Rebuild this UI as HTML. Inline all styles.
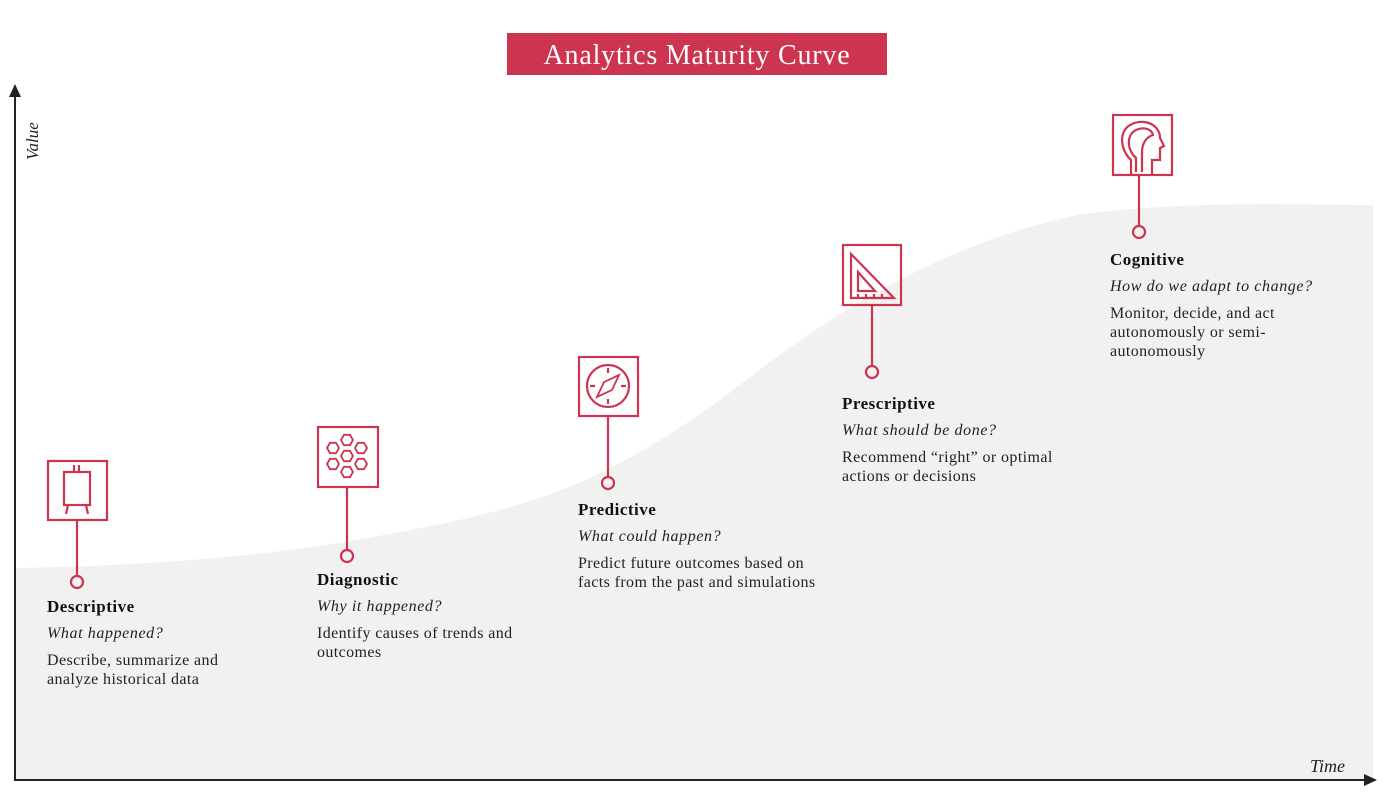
<!DOCTYPE html>
<html><head><meta charset="utf-8"><style>
body{margin:0;width:1400px;height:793px;background:#fff;position:relative;overflow:hidden;font-family:"Liberation Serif",serif;color:#222}
.t{position:absolute;font-size:16px;line-height:19px;letter-spacing:0.4px}
.t b{display:block;font-size:17px;letter-spacing:0.5px;margin-bottom:8px;color:#111}
.t i{display:block;margin-bottom:8px;letter-spacing:0.6px}
</style></head><body>
<svg width="1400" height="793" style="position:absolute;left:0;top:0">
<path d="M16,568 C150,566 260,556 350,541 C460,522 540,505 610,468 C680,432 720,400 770,362 C840,310 950,240 1083,214 C1200,200 1300,205 1373,205 L1373,780 L16,780 Z" fill="#f1f1f1"/>
<line x1="15" y1="95" x2="15" y2="781" stroke="#222" stroke-width="2"/>
<polygon points="15,84 9,97 21,97" fill="#222"/>
<line x1="14" y1="780" x2="1366" y2="780" stroke="#222" stroke-width="2"/>
<polygon points="1377,780 1364,774 1364,786" fill="#222"/>
<rect x="507" y="33" width="380" height="42" fill="#cd3450"/>
<text x="697" y="64" text-anchor="middle" font-family="Liberation Serif,serif" font-size="28" letter-spacing="0.8" fill="#fff">Analytics Maturity Curve</text>
<text transform="translate(38,160) rotate(-90)" font-family="Liberation Serif,serif" font-style="italic" font-size="17" fill="#222">Value</text>
<text x="1345" y="772" text-anchor="end" font-family="Liberation Serif,serif" font-style="italic" font-size="18" fill="#222">Time</text>
<defs><polygon id="hx" points="-6,0 -3,-5.2 3,-5.2 6,0 3,5.2 -3,5.2"/></defs>
<g fill="none" stroke="#cd3450" stroke-width="2.2">
<rect x="48" y="461" width="59" height="59"/><line x1="77" y1="520" x2="77" y2="576"/><circle cx="77" cy="582" r="6"/>
<rect x="64" y="472" width="26" height="33"/><line x1="74" y1="465" x2="74" y2="472"/><line x1="79" y1="465" x2="79" y2="472"/><line x1="68" y1="505" x2="66" y2="514"/><line x1="86" y1="505" x2="88" y2="514"/>
<rect x="318" y="427" width="60" height="60"/><line x1="347" y1="487" x2="347" y2="550"/><circle cx="347" cy="556" r="6"/>
<g stroke-width="1.8">
<use href="#hx" x="347" y="456"/><use href="#hx" x="347" y="440"/><use href="#hx" x="347" y="472"/>
<use href="#hx" x="333" y="448"/><use href="#hx" x="361" y="448"/><use href="#hx" x="333" y="464"/><use href="#hx" x="361" y="464"/>
</g>
<rect x="579" y="357" width="59" height="59"/><line x1="608" y1="416" x2="608" y2="477"/><circle cx="608" cy="483" r="6"/>
<circle cx="608" cy="386" r="21"/><polygon points="619,375 612,390 597,397 604,382" stroke-width="1.8"/>
<line x1="608" y1="368" x2="608" y2="373"/><line x1="608" y1="399" x2="608" y2="404"/><line x1="590" y1="386" x2="595" y2="386"/><line x1="621" y1="386" x2="626" y2="386"/>
<rect x="843" y="245" width="58" height="60"/><line x1="872" y1="305" x2="872" y2="366"/><circle cx="872" cy="372" r="6"/>
<polygon points="851,254 851,298 894,298"/><polygon points="858,272 858,291 875,291"/>
<line x1="858" y1="294" x2="858" y2="298"/><line x1="866" y1="294" x2="866" y2="298"/><line x1="874" y1="294" x2="874" y2="298"/><line x1="882" y1="294" x2="882" y2="298"/>
<rect x="1113" y="115" width="59" height="60"/><line x1="1139" y1="175" x2="1139" y2="226"/><circle cx="1139" cy="232" r="6"/>
<path d="M1131,175 L1131,160 C1120,150 1118,130 1132,124 C1145,118 1160,125 1160,138 L1164,146 L1160,148 L1160,160 L1152,160 L1152,175"/>
<path d="M1136,172 L1136,158 C1127,150 1126,135 1136,130 C1145,126 1152,130 1153,135 C1146,137 1142,144 1142,152 L1142,172"/>
</g>
</svg>
<div class="t" style="left:47px;top:597px"><b>Descriptive</b><i>What happened?</i>Describe, summarize and<br>analyze historical data</div>
<div class="t" style="left:317px;top:570px"><b>Diagnostic</b><i>Why it happened?</i>Identify causes of trends and<br>outcomes</div>
<div class="t" style="left:578px;top:500px"><b>Predictive</b><i>What could happen?</i>Predict future outcomes based on<br>facts from the past and simulations</div>
<div class="t" style="left:842px;top:394px"><b>Prescriptive</b><i>What should be done?</i>Recommend “right” or optimal<br>actions or decisions</div>
<div class="t" style="left:1110px;top:250px"><b>Cognitive</b><i>How do we adapt to change?</i>Monitor, decide, and act<br>autonomously or semi-<br>autonomously</div>
</body></html>
